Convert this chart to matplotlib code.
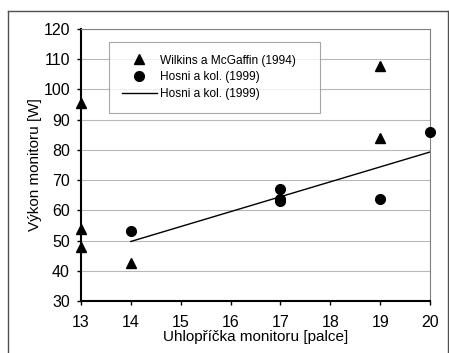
import matplotlib
matplotlib.use("Agg")
import matplotlib.pyplot as plt
from matplotlib.lines import Line2D

plt.rcParams["font.family"] = ["Liberation Sans", "DejaVu Sans"]

# Wilkins a McGaffin (1994)
wilkins_x = [13, 13, 13, 14, 19, 19]
wilkins_y = [95.5, 53.8, 48.0, 42.6, 107.9, 83.8]

# Hosni a kol. (1999)
hosni_x = [14, 17, 17, 17, 19, 20]
hosni_y = [53.2, 66.9, 63.6, 63.0, 63.7, 86.0]

# trend line
trend_x = [14, 20]
trend_y = [49.7, 79.3]

x_ticks = [13, 14, 15, 16, 17, 18, 19, 20]
y_ticks = [30, 40, 50, 60, 70, 80, 90, 100, 110, 120]


def main():
    fig = plt.figure(figsize=(4.49, 3.53), dpi=100)
    ax = fig.add_axes([81 / 449, 1 - 301 / 353, 349 / 449, 272 / 353])

    # outer frame
    for xs, ys in [([8 / 449, 8 / 449], [-0.01, 1 - 11 / 353]),
                   ([8 / 449, 448 / 449], [1 - 11 / 353, 1 - 11 / 353]),
                   ([448 / 449, 448 / 449], [1 - 11 / 353, -0.01])]:
        fig.add_artist(Line2D(xs, ys, transform=fig.transFigure,
                              color="#505050", lw=1.0))

    ax.plot(wilkins_x, wilkins_y, linestyle="none", marker="^", color="black",
            markersize=7, label="Wilkins a McGaffin (1994)", clip_on=False, zorder=4)
    ax.plot(hosni_x, hosni_y, linestyle="none", marker="o", color="black",
            markersize=7, label="Hosni a kol. (1999)", clip_on=False, zorder=4)
    ax.plot(trend_x, trend_y, color="black", lw=1.0, label="Hosni a kol. (1999)")

    ax.set_xlim(13, 20)
    ax.set_ylim(30, 120)
    ax.set_xticks(x_ticks)
    ax.set_yticks(y_ticks)
    ax.tick_params(labelsize=11.5, length=3, width=1, direction="out")
    ax.tick_params(axis="x", pad=7)
    ax.tick_params(axis="y", pad=5)
    ax.grid(axis="y", color="#b8b8b8", lw=0.8)
    ax.set_axisbelow(True)

    ax.spines["left"].set_linewidth(1.5)
    ax.spines["bottom"].set_linewidth(1.5)
    ax.spines["top"].set_color("#808080")
    ax.spines["right"].set_color("#808080")
    ax.spines["top"].set_linewidth(0.8)
    ax.spines["right"].set_linewidth(0.8)

    ax.set_xlabel("Uhlopříčka monitoru [palce]", fontsize=11, labelpad=0)
    ax.set_ylabel("Výkon monitoru [W]", fontsize=11, labelpad=1)

    leg = ax.legend(loc="upper left",
                    bbox_to_anchor=(28 / 349, 259 / 272, 211 / 349, 0.0),
                    mode="expand", fontsize=8.6,
                    frameon=True, fancybox=False, edgecolor="#909090",
                    borderpad=1.05, labelspacing=0.4, handlelength=3.0,
                    handletextpad=0.25, borderaxespad=0)
    leg.get_frame().set_linewidth(0.8)

    fig.savefig("out.png", dpi=100)


if __name__ == "__main__":
    main()
